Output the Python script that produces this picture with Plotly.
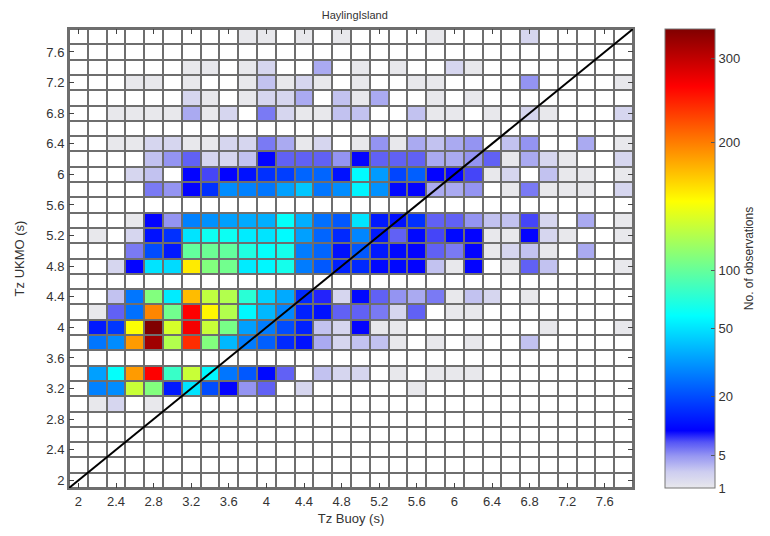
import numpy as np
import plotly.graph_objects as go

# Bin centres (s) for Tz Buoy (x) and Tz UKMO (y)
x_centers = [2.0, 2.2, 2.4, 2.6, 2.8, 3.0, 3.2, 3.4, 3.6, 3.8,
             4.0, 4.2, 4.4, 4.6, 4.8, 5.0, 5.2, 5.4, 5.6, 5.8,
             6.0, 6.2, 6.4, 6.6, 6.8, 7.0, 7.2, 7.4, 7.6, 7.8]
y_centers = [2.0, 2.2, 2.4, 2.6, 2.8, 3.0, 3.2, 3.4, 3.6, 3.8,
             4.0, 4.2, 4.4, 4.6, 4.8, 5.0, 5.2, 5.4, 5.6, 5.8,
             6.0, 6.2, 6.4, 6.6, 6.8, 7.0, 7.2, 7.4, 7.6, 7.8]

# Number of observations per cell, one list per Tz UKMO row (columns follow x_centers)
row_2_0 = [0] * 30
row_2_2 = [0] * 30
row_2_4 = [0] * 30
row_2_6 = [0] * 30
row_2_8 = [0] * 30
row_3_0 = [0, 1, 2, 0, 1, 0, 0, 0, 0, 0, 0, 0, 0, 0, 0, 0, 0, 0, 0, 0, 0, 0, 0, 0, 0, 0, 0, 0, 0, 0]
row_3_2 = [0, 29, 31, 120, 95, 13, 50, 20, 10, 5, 7, 0, 2, 0, 0, 0, 0, 0, 1, 0, 0, 0, 0, 0, 0, 0, 0, 0, 0, 0]
row_3_4 = [0, 35, 58, 185, 265, 72, 120, 55, 27, 22, 11, 7, 0, 3, 2, 2, 0, 1, 0, 1, 1, 1, 0, 0, 0, 0, 0, 0, 0, 0]
row_3_6 = [0] * 30
row_3_8 = [0, 27, 31, 185, 320, 112, 240, 95, 40, 28, 23, 15, 12, 4, 2, 3, 3, 1, 0, 1, 0, 1, 0, 0, 3, 0, 0, 0, 0, 0]
row_4_0 = [0, 13, 17, 140, 340, 125, 270, 120, 92, 35, 28, 20, 14, 3, 2, 10, 1, 1, 0, 0, 0, 0, 0, 0, 0, 1, 0, 0, 0, 1]
row_4_2 = [0, 1, 7, 26, 195, 90, 265, 145, 112, 55, 40, 30, 14, 12, 7, 7, 6, 2, 7, 0, 1, 1, 0, 0, 0, 0, 0, 0, 0, 0]
row_4_4 = [0, 0, 3, 27, 95, 52, 170, 117, 112, 68, 46, 37, 15, 9, 2, 11, 7, 5, 4, 6, 1, 3, 2, 0, 1, 0, 0, 0, 0, 0]
row_4_6 = [0] * 30
row_4_8 = [0, 0, 2, 10, 50, 48, 150, 95, 90, 52, 55, 62, 28, 22, 14, 15, 11, 11, 10, 3, 1, 10, 0, 1, 7, 3, 0, 0, 0, 1]
row_5_0 = [0, 0, 0, 6, 20, 13, 85, 88, 85, 65, 58, 62, 28, 24, 12, 22, 13, 11, 10, 7, 6, 10, 1, 2, 3, 1, 0, 4, 0, 0]
row_5_2 = [0, 1, 0, 2, 12, 16, 50, 60, 60, 52, 50, 56, 35, 24, 15, 30, 13, 7, 11, 8, 11, 10, 1, 1, 10, 2, 1, 0, 0, 1]
row_5_4 = [0, 0, 0, 1, 10, 5, 29, 32, 35, 37, 38, 58, 38, 26, 22, 50, 13, 12, 16, 7, 7, 5, 3, 3, 8, 2, 0, 4, 0, 1]
row_5_6 = [0] * 30
row_5_8 = [0, 0, 0, 0, 6, 5, 10, 16, 31, 29, 27, 35, 43, 27, 31, 54, 32, 11, 10, 4, 4, 5, 0, 1, 6, 1, 1, 1, 0, 2]
row_6_0 = [0, 0, 0, 2, 3, 0, 10, 8, 10, 12, 16, 18, 24, 24, 12, 56, 34, 19, 23, 10, 10, 8, 1, 2, 0, 3, 1, 1, 0, 1]
row_6_2 = [0, 0, 0, 0, 3, 5, 7, 2, 2, 3, 10, 7, 7, 7, 5, 10, 7, 7, 7, 4, 4, 5, 7, 1, 4, 2, 1, 0, 0, 2]
row_6_4 = [0, 0, 1, 1, 2, 2, 1, 1, 2, 2, 6, 4, 1, 2, 0, 1, 5, 1, 4, 3, 4, 5, 0, 3, 5, 0, 0, 4, 0, 1]
row_6_6 = [0] * 30
row_6_8 = [0, 0, 1, 1, 1, 1, 4, 1, 2, 0, 6, 2, 1, 1, 3, 3, 0, 0, 3, 1, 1, 0, 1, 0, 2, 1, 0, 0, 0, 2]
row_7_0 = [0, 0, 0, 0, 0, 0, 2, 1, 0, 1, 2, 2, 4, 0, 3, 1, 4, 0, 0, 1, 0, 1, 0, 0, 0, 0, 0, 0, 0, 0]
row_7_2 = [0, 0, 0, 1, 1, 0, 1, 0, 0, 1, 3, 1, 2, 1, 0, 1, 0, 0, 1, 1, 0, 0, 0, 0, 5, 0, 0, 0, 0, 1]
row_7_4 = [0, 0, 0, 0, 0, 0, 1, 1, 0, 1, 2, 0, 0, 4, 0, 1, 0, 1, 0, 0, 2, 1, 0, 0, 0, 0, 0, 0, 0, 0]
row_7_6 = [0] * 30
row_7_8 = [0, 0, 0, 0, 0, 0, 0, 0, 0, 1, 1, 0, 1, 0, 1, 0, 0, 0, 0, 1, 0, 0, 0, 0, 2, 0, 0, 0, 0, 0]

counts = [row_2_0, row_2_2, row_2_4, row_2_6, row_2_8, row_3_0, row_3_2, row_3_4, row_3_6, row_3_8,
          row_4_0, row_4_2, row_4_4, row_4_6, row_4_8, row_5_0, row_5_2, row_5_4, row_5_6, row_5_8,
          row_6_0, row_6_2, row_6_4, row_6_6, row_6_8, row_7_0, row_7_2, row_7_4, row_7_6, row_7_8]

# Axis ticks
axis_ticks = [2, 2.4, 2.8, 3.2, 3.6, 4, 4.4, 4.8, 5.2, 5.6, 6, 6.4, 6.8, 7.2, 7.6]
axis_ticktext = ["2", "2.4", "2.8", "3.2", "3.6", "4", "4.4", "4.8", "5.2", "5.6", "6", "6.4", "6.8", "7.2", "7.6"]
axis_range = [1.9, 7.9]

# Colour bar (square-root scale)
cbar_labels = ["1", "5", "20", "50", "100", "200", "300"]
cbar_values = [1, 5, 20, 50, 86, 200, 300]
count_max = 340

c = np.array(counts, dtype=float)
z = np.where(c > 0, np.sqrt(c), np.nan)

colorscale = [
    [0.0, "rgb(232,232,236)"],
    [0.035, "rgb(205,205,240)"],
    [0.07, "rgb(150,150,242)"],
    [0.10, "rgb(85,85,246)"],
    [0.125, "rgb(0,0,255)"],
    [0.375, "rgb(0,255,255)"],
    [0.5, "rgb(128,255,128)"],
    [0.625, "rgb(255,255,0)"],
    [0.875, "rgb(255,0,0)"],
    [1.0, "rgb(128,0,0)"],
]

FONT = "Liberation Sans, Arial, sans-serif"
GRID = "#6e6e6e"

fig = go.Figure()

# White base for the empty cells
fig.add_trace(go.Heatmap(
    x=x_centers, y=y_centers, z=np.zeros_like(c),
    colorscale=[[0, "white"], [1, "white"]], showscale=False,
    xgap=2, ygap=2, hoverinfo="skip",
))

fig.add_trace(go.Heatmap(
    x=x_centers, y=y_centers, z=z,
    colorscale=colorscale, zmin=1, zmax=np.sqrt(count_max),
    xgap=2, ygap=2,
    customdata=c,
    hovertemplate="Tz Buoy %{x}<br>Tz UKMO %{y}<br>N = %{customdata}<extra></extra>",
    colorbar=dict(
        tickvals=np.sqrt(cbar_values), ticktext=cbar_labels,
        ticks="inside", ticklen=4, tickcolor="#555",
        thickness=50, thicknessmode="pixels",
        len=1.0, lenmode="fraction", y=0.5, yanchor="middle", ypad=0,
        x=1.057, xanchor="left", xpad=0,
        outlinewidth=1, outlinecolor="#777",
        tickfont=dict(family=FONT, size=13, color="#333"),
        title=dict(text="No. of observations", side="right",
                   font=dict(family=FONT, size=12, color="#333")),
    ),
))

# 1:1 reference line
fig.add_trace(go.Scatter(
    x=axis_range, y=axis_range, mode="lines",
    line=dict(color="black", width=2), showlegend=False, hoverinfo="skip",
))

axis_common = dict(
    range=axis_range, tickvals=axis_ticks, ticktext=axis_ticktext,
    ticks="inside", ticklen=5, tickcolor="#444", tickwidth=1,
    showline=True, linecolor=GRID, linewidth=2, mirror="ticks",
    showgrid=False, zeroline=False, automargin=False,
    tickfont=dict(family=FONT, size=13, color="#333"),
)

# The page body adds an 8px margin, so the figure is 16px smaller than the window
fig.update_layout(
    width=754, height=520,
    margin=dict(l=61, r=129, t=21, b=40, autoexpand=False),
    paper_bgcolor="white", plot_bgcolor=GRID,
    title=dict(text="HaylingIsland", x=0.46, xanchor="center", y=0.986, yanchor="middle",
               font=dict(family=FONT, size=11, color="#333")),
    xaxis=dict(axis_common, title=dict(text="Tz Buoy (s)", standoff=6,
                                        font=dict(family=FONT, size=13, color="#333"))),
    yaxis=dict(axis_common, title=dict(text="Tz UKMO (s)", standoff=19,
                                        font=dict(family=FONT, size=13, color="#333"))),
    showlegend=False,
)

fig.write_html("out.html")
